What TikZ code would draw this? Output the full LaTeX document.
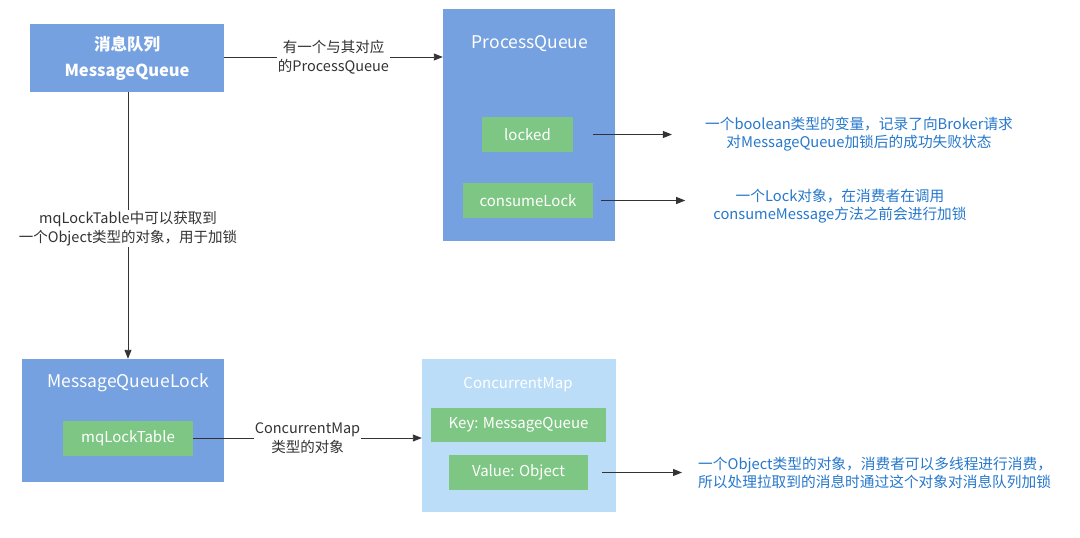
\documentclass[tikz,border=0pt]{standalone}
\usepackage{fontspec}
\setmainfont{Noto Sans CJK SC}
\usetikzlibrary{arrows.meta}
\definecolor{boxblue}{RGB}{118,161,224}
\definecolor{boxgreen}{RGB}{126,198,131}
\definecolor{boxlight}{RGB}{187,221,248}
\definecolor{descblue}{RGB}{38,120,204}
\definecolor{linegray}{RGB}{51,51,51}
\tikzset{
  bluebox/.style={draw=none, fill=boxblue, inner sep=0pt},
  lightbox/.style={draw=none, fill=boxlight, inner sep=0pt},
  greenbox/.style={draw=none, fill=boxgreen, inner sep=0pt, text=white, font=\fontsize{15}{18}\selectfont},
  titletext/.style={text=white, inner sep=0pt, font=\fontsize{17.5}{20}\selectfont},
  conn/.style={draw=linegray, line width=0.9pt, -{Triangle[length=9pt,width=7pt]}},
  conntext/.style={fill=white, inner sep=1pt, align=center, text=linegray, font=\fontsize{14.5}{19}\selectfont},
  desctext/.style={inner sep=0pt, text=descblue, font=\fontsize{14.7}{18}\selectfont}
}
\begin{document}
\begin{tikzpicture}[x=1pt,y=-1pt]
\path[fill=white] (0,0) rectangle (1080,538);
\useasboundingbox (0,0) rectangle (1080,538);

% top-left: MessageQueue
\node[bluebox, minimum width=194pt, minimum height=68pt, text=white, align=center,
      font=\bfseries\fontsize{16.5}{26}\selectfont] (mq) at (127,58) {消息队列\\MessageQueue};

% ProcessQueue
\node[bluebox, minimum width=172pt, minimum height=232pt] (pq) at (529,125) {};
\node[titletext] (pqt) at (530,44) {ProcessQueue};
\node[greenbox, minimum width=91pt, minimum height=35pt] (locked) at (527.5,134.5) {locked};
\node[greenbox, minimum width=130pt, minimum height=35pt] (clock) at (528,200.5) {consumeLock};

% descriptions
\node[desctext, align=center] (d1) at (859,134.5) {一个boolean类型的变量，记录了向Broker请求\\对MessageQueue加锁后的成功失败状态};
\node[desctext, align=center] (d2) at (840,206) {一个Lock对象，在消费者在调用\\consumeMessage方法之前会进行加锁};
\node[desctext, align=left, anchor=west] (d3) at (698,473) {一个Object类型的对象，消费者可以多线程进行消费，\\所以处理拉取到的消息时通过这个对象对消息队列加锁};

% MessageQueueLock
\node[bluebox, minimum width=202pt, minimum height=123pt] (mql) at (123,420.5) {};
\node[titletext] (mqlt) at (128,383) {MessageQueueLock};
\node[greenbox, minimum width=130pt, minimum height=35pt] (mqtab) at (128,438.5) {mqLockTable};

% ConcurrentMap
\node[lightbox, minimum width=194pt, minimum height=153pt] (cm) at (519,435.5) {};
\node[titletext, font=\fontsize{15}{18}\selectfont] (cmt) at (518,385) {ConcurrentMap};
\node[greenbox, minimum width=175pt, minimum height=34pt] (key) at (518.5,425) {Key: MessageQueue};
\node[greenbox, minimum width=139pt, minimum height=35pt] (val) at (518.5,472.5) {Value: Object};

% connectors
\draw[conn] (mq.east |- 0,57) -- node[conntext] (l1) {有一个与其对应\\的ProcessQueue} (pq.west |- 0,57);
\draw[conn] (mq.south -| 128,0) -- node[conntext, pos=0.51] (l2) {mqLockTable中可以获取到\\一个Object类型的对象，用于加锁} (mql.north -| 128,0);
\draw[conn] (mqtab.east |- 0,438) -- node[conntext] (l3) {ConcurrentMap\\类型的对象} (cm.west |- 0,438);

\draw[conn, shorten <=20pt, shorten >=33pt] (locked.east) -- (locked.east -| d1.west);
\draw[conn, shorten <=8pt, shorten >=28pt] (clock.east) -- (clock.east -| d2.west);
\draw[conn, shorten <=14pt, shorten >=16pt] (val.east) -- (val.east -| d3.west);
\end{tikzpicture}
\end{document}
